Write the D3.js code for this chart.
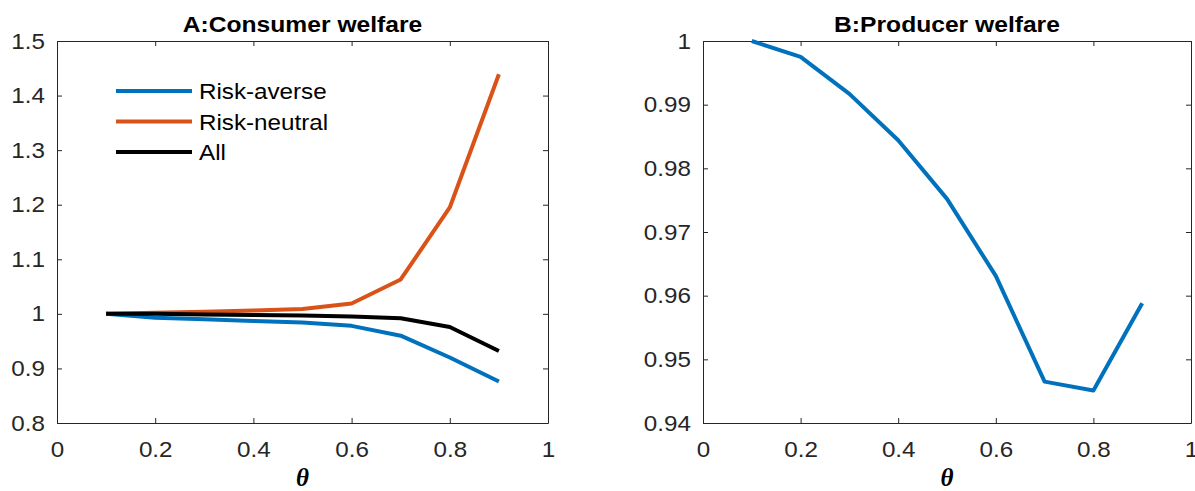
<!DOCTYPE html>
<html>
<head>
<meta charset="utf-8">
<script src="https://cdn.jsdelivr.net/npm/d3@7"></script>
<style>
  body { margin: 0; background: #fff; }
  svg { display: block; font-family: "Liberation Sans", Arial, sans-serif; }
  .tick text { fill: #262626; font-size: 22px; }
  .ttl { font-weight: bold; font-size: 22px; fill: #000; }
  .xlab { font-family: "Liberation Serif", "DejaVu Serif", serif; font-weight: bold; font-style: italic; font-size: 25px; }
  .leg { font-size: 22px; fill: #000; }
</style>
</head>
<body>
<svg id="chart" width="1195" height="491"></svg>
<script>
// theta grid
var theta = [0.1, 0.2, 0.3, 0.4, 0.5, 0.6, 0.7, 0.8, 0.9];

// panel A series
var riskAverse  = [1.000, 0.993, 0.990, 0.987, 0.984, 0.978, 0.960, 0.920, 0.876];
var riskNeutral = [1.000, 1.002, 1.004, 1.006, 1.009, 1.019, 1.063, 1.195, 1.439];
var allCons     = [1.000, 1.000, 0.999, 0.998, 0.997, 0.995, 0.992, 0.976, 0.932];

// panel B series
var producer = [1.000, 0.9975, 0.9917, 0.9844, 0.9752, 0.9631, 0.9465, 0.9451, 0.9588];

var xTicks = [0, 0.2, 0.4, 0.6, 0.8, 1];
var yTicksA = [0.8, 0.9, 1, 1.1, 1.2, 1.3, 1.4, 1.5];
var yTicksB = [0.94, 0.95, 0.96, 0.97, 0.98, 0.99, 1];

var svg = d3.select('#chart');
var top_ = 41, bottom = 423;
var stretch = 'scale(1.1,1)'; // text in the original is a bit wide

function panel(left, right, yDomain, yTicks, title, series){
    var g = svg.append('g');
    var x = d3.scaleLinear().domain([0, 1]).range([left, right]);
    var y = d3.scaleLinear().domain(yDomain).range([bottom, top_]);
    var fmt = function(d){ return d3.format('')(+d.toFixed(2)); };

    // bottom + top
    g.append('g').attr('transform', 'translate(0,' + bottom + ')')
        .call(d3.axisBottom(x).tickValues(xTicks).tickFormat(fmt).tickSizeInner(-5).tickSizeOuter(0).tickPadding(18));
    g.append('g').attr('transform', 'translate(0,' + top_ + ')')
        .call(d3.axisTop(x).tickValues(xTicks).tickFormat('').tickSizeInner(-5).tickSizeOuter(0));
    // left + right
    g.append('g').attr('transform', 'translate(' + left + ',0)')
        .call(d3.axisLeft(y).tickValues(yTicks).tickFormat(fmt).tickSizeInner(-5).tickSizeOuter(0).tickPadding(11));
    g.append('g').attr('transform', 'translate(' + right + ',0)')
        .call(d3.axisRight(y).tickValues(yTicks).tickFormat('').tickSizeInner(-5).tickSizeOuter(0));

    g.selectAll('.domain, .tick line').attr('stroke', '#262626').attr('stroke-width', 1);
    g.selectAll('.tick text').attr('font-family', null).attr('font-size', null)
        .attr('transform', stretch);

    var line = d3.line().x(function(d, i){ return x(theta[i]); }).y(function(d){ return y(d); });
    series.forEach(function(s){
        g.append('path')
            .attr('d', line(s.values))
            .attr('fill', 'none')
            .attr('stroke', s.color)
            .attr('stroke-width', 4)
            .attr('stroke-linejoin', 'round');
    });

    g.append('text').attr('class', 'ttl')
        .attr('transform', 'translate(' + (left + right) / 2 + ',32) scale(1.12,1)')
        .attr('text-anchor', 'middle').text(title);
    g.append('text').attr('class', 'xlab')
        .attr('x', (left + right) / 2).attr('y', 486)
        .attr('text-anchor', 'middle').text('θ');
    return g;
}

var seriesA = [
    {name: 'Risk-averse', values: riskAverse, color: '#0072BD'},
    {name: 'Risk-neutral', values: riskNeutral, color: '#D95319'},
    {name: 'All', values: allCons, color: '#000000'}
];

var gA = panel(57, 548, [0.8, 1.5], yTicksA, 'A:Consumer welfare', seriesA);
panel(703, 1191, [0.94, 1], yTicksB, 'B:Producer welfare',
      [{name: 'Producer', values: producer, color: '#0072BD'}]);

// legend
var leg = gA.append('g');
seriesA.forEach(function(s, i){
    var yy = 91 + i * 30.5;
    leg.append('line')
        .attr('x1', 116).attr('x2', 192).attr('y1', yy).attr('y2', yy)
        .attr('stroke', s.color).attr('stroke-width', 4);
    leg.append('text').attr('class', 'leg')
        .attr('transform', 'translate(199,' + (yy + 8) + ') scale(1.1,1)')
        .text(s.name);
});
</script>
</body>
</html>
